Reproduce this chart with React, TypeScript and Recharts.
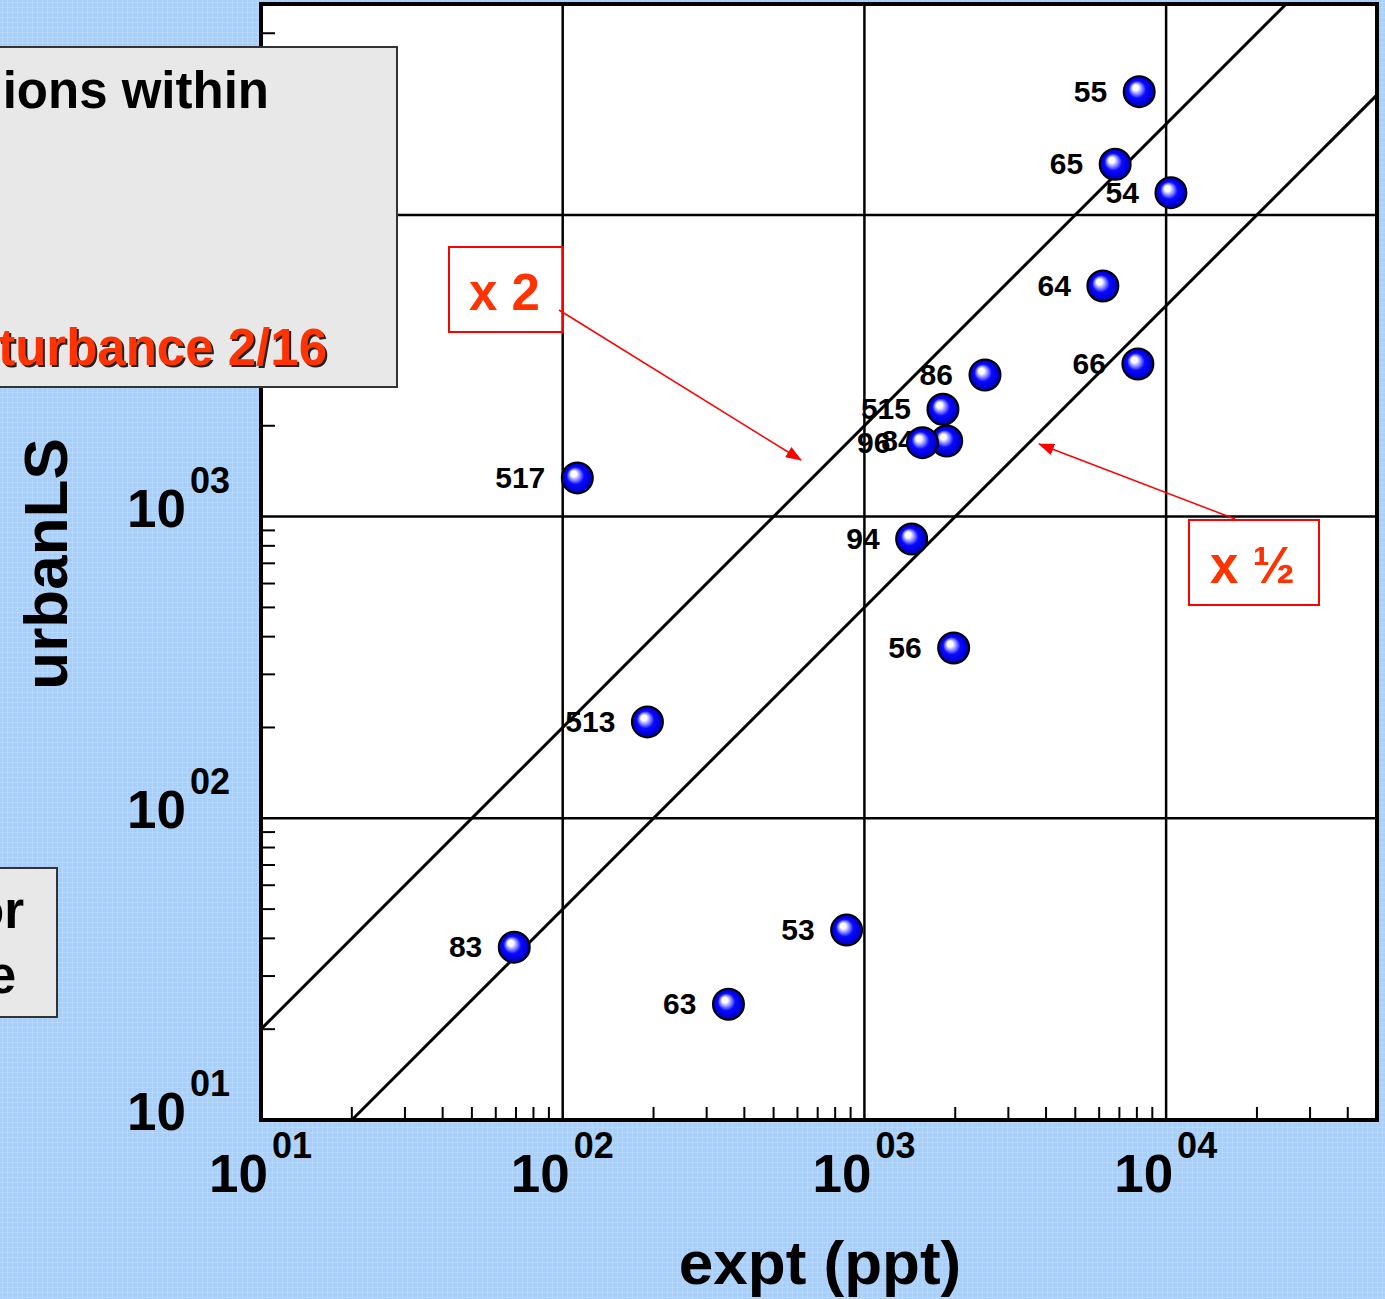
import React from 'react';
import { ScatterChart, Scatter, XAxis, YAxis, ReferenceLine, ReferenceArea } from 'recharts';

// ---- data ----
const pointLabels = ['55', '65', '54', '64', '66', '86', '515', '84', '96', '517', '94', '56', '513', '83', '53', '63'];
const exptValues = [8142, 6779, 10373, 6170, 8062, 2510, 1821, 1874, 1557, 111.8, 1434, 1976, 190.9, 69.1, 873, 354.3];
const urbanValues = [25605, 14718, 11850, 5812, 3204, 2947, 2268, 1781, 1758, 1343, 843, 366.8, 208.6, 37.4, 42.6, 24.2];

const majorTicks = [10, 100, 1000, 10000];
const exponentLabels = ['01', '02', '03', '04'];
const minorTicks = [
  20, 30, 40, 50, 60, 70, 80, 90,
  200, 300, 400, 500, 600, 700, 800, 900,
  2000, 3000, 4000, 5000, 6000, 7000, 8000, 9000,
  20000, 30000, 40000,
];
const axisDomain = [10, 50000];
const gridValues = [100, 1000, 10000];
// y = 2x and y = x/2 reference lines (endpoints at the plot boundary)
const upperLine = [{ x: 10, y: 20 }, { x: 25000, y: 50000 }];
const lowerLine = [{ x: 20, y: 10 }, { x: 50000, y: 25000 }];

const points = pointLabels.map((label, i) => ({ label, x: exptValues[i], y: urbanValues[i] }));
const allTicks = [...majorTicks, ...minorTicks].sort((a, b) => a - b);

const FONT = '"Liberation Sans", Arial, Helvetica, sans-serif';

const XTick = (props: any) => {
  const { x, y, payload } = props;
  const v = payload.value;
  const idx = majorTicks.indexOf(v);
  if (idx < 0) {
    return <line x1={x} x2={x} y1={y} y2={y - 13} stroke="#000" strokeWidth={2} />;
  }
  return (
    <g>
      <text x={x + 7} y={y + 72} textAnchor="end" fontFamily={FONT} fontWeight="bold" fontSize={53} fill="#000">10</text>
      <text x={x + 11} y={y + 38} textAnchor="start" fontFamily={FONT} fontWeight="bold" fontSize={36} fill="#000">{exponentLabels[idx]}</text>
    </g>
  );
};

const YTick = (props: any) => {
  const { x, y, payload } = props;
  const v = payload.value;
  const idx = majorTicks.indexOf(v);
  if (idx < 0) {
    return <line x1={x} x2={x + 14} y1={y} y2={y} stroke="#000" strokeWidth={2} />;
  }
  return (
    <g>
      <text x={x - 75} y={y + 10} textAnchor="end" fontFamily={FONT} fontWeight="bold" fontSize={53} fill="#000">10</text>
      <text x={x - 31} y={y - 24} textAnchor="end" fontFamily={FONT} fontWeight="bold" fontSize={36} fill="#000">{exponentLabels[idx]}</text>
    </g>
  );
};

const Ball = (props: any) => {
  const { cx, cy } = props;
  const label = props.payload?.label ?? props.label;
  if (cx == null || cy == null) return <g />;
  return (
    <g>
      <text x={cx - 32} y={cy + 10} textAnchor="end" fontFamily={FONT} fontWeight="bold" fontSize={30} fill="#000">{label}</text>
      <circle cx={cx} cy={cy} r={15.5} fill="url(#ballGrad)" stroke="#000" strokeWidth={2} />
    </g>
  );
};

export default function App() {
  return (
    <div style={{ position: 'absolute', left: 0, top: 0, width: 1385, height: 1299, overflow: 'hidden' }}>
      <svg width={1385} height={1299} style={{ position: 'absolute', left: 0, top: 0 }}>
        <defs>
          <pattern id="bgpat" width={5} height={5} patternUnits="userSpaceOnUse">
            <rect width={5} height={5} fill="#a8cffa" />
            <rect x={2} y={0} width={1} height={5} fill="#c0ddfd" opacity={0.55} />
            <rect x={0} y={2} width={5} height={1} fill="#c0ddfd" opacity={0.55} />
          </pattern>
        </defs>
        <rect width={1385} height={1299} fill="url(#bgpat)" />
      </svg>
      <div style={{ position: 'absolute', left: 0, top: 0 }}>
        <ScatterChart width={1385} height={1299} margin={{ top: 4, right: 8, bottom: 79, left: 61 }}>
          <defs>
            <radialGradient id="ballGrad" cx="0.5" cy="0.5" r="0.5" fx="0.36" fy="0.34">
              <stop offset="0" stopColor="#ffffff" />
              <stop offset="0.18" stopColor="#ffffff" />
              <stop offset="0.36" stopColor="#8c8cff" />
              <stop offset="0.56" stopColor="#0a0aff" />
              <stop offset="0.85" stopColor="#0000d8" />
              <stop offset="1" stopColor="#00008a" />
            </radialGradient>
          </defs>
          <ReferenceArea x1={axisDomain[0]} x2={axisDomain[1]} y1={axisDomain[0]} y2={axisDomain[1]} fill="#ffffff" fillOpacity={1} stroke="none" ifOverflow="visible" />
          <XAxis
            dataKey="x"
            type="number"
            scale="log"
            domain={axisDomain}
            allowDataOverflow
            ticks={allTicks}
            interval={0}
            tickLine={false}
            tickSize={0}
            tickMargin={0}
            height={100}
            axisLine={{ stroke: '#000', strokeWidth: 4 }}
            tick={XTick}
          />
          <YAxis
            dataKey="y"
            type="number"
            scale="log"
            domain={axisDomain}
            allowDataOverflow
            ticks={allTicks}
            interval={0}
            tickLine={false}
            tickSize={0}
            tickMargin={0}
            width={200}
            axisLine={{ stroke: '#000', strokeWidth: 4 }}
            tick={YTick}
          />
          {gridValues.map((v) => (
            <ReferenceLine key={'gx' + v} x={v} stroke="#000" strokeWidth={2.5} />
          ))}
          {gridValues.map((v) => (
            <ReferenceLine key={'gy' + v} y={v} stroke="#000" strokeWidth={2.5} />
          ))}
          <ReferenceLine segment={upperLine} stroke="#000" strokeWidth={3} ifOverflow="visible" />
          <ReferenceLine segment={lowerLine} stroke="#000" strokeWidth={3} ifOverflow="visible" />
          <ReferenceArea x1={axisDomain[0]} x2={axisDomain[1]} y1={axisDomain[0]} y2={axisDomain[1]} fill="none" stroke="#000" strokeWidth={4} ifOverflow="visible" />
          <Scatter data={points} shape={Ball} isAnimationActive={false} />
        </ScatterChart>
      </div>
      <svg width={1385} height={1299} style={{ position: 'absolute', left: 0, top: 0, pointerEvents: 'none' }}>
        <defs>
          <marker id="arrowHead" markerWidth={16} markerHeight={12} refX={15} refY={6} orient="auto" markerUnits="userSpaceOnUse">
            <path d="M0,0 L16,6 L0,12 Z" fill="#ff0000" />
          </marker>
        </defs>
        {/* axis titles */}
        <text x={820} y={1284} textAnchor="middle" fontFamily={FONT} fontWeight="bold" fontSize={62} fill="#000">expt (ppt)</text>
        <text transform="translate(67,564) rotate(-90)" textAnchor="middle" fontFamily={FONT} fontWeight="bold" fontSize={62} fill="#000">urbanLS</text>
        {/* upper-left gray box */}
        <rect x={-2} y={47} width={399} height={340} fill="#e8e8e8" stroke="#333" strokeWidth={2} />
        <text x={269} y={108} textAnchor="end" fontFamily={FONT} fontWeight="bold" fontSize={51} fill="#000">ions within</text>
        <text x={329} y={367} textAnchor="end" fontFamily={FONT} fontWeight="bold" fontSize={51} fill="#222">turbance 2/16</text>
        <text x={327} y={365} textAnchor="end" fontFamily={FONT} fontWeight="bold" fontSize={51} fill="#ff3300">turbance 2/16</text>
        {/* lower-left gray box */}
        <rect x={-2} y={868} width={59} height={149} fill="#e8e8e8" stroke="#333" strokeWidth={2} />
        <text x={24} y={928} textAnchor="end" fontFamily={FONT} fontWeight="bold" fontSize={51} fill="#000">or</text>
        <text x={16} y={993} textAnchor="end" fontFamily={FONT} fontWeight="bold" fontSize={51} fill="#000">e</text>
        {/* x 2 annotation */}
        <rect x={449} y={247} width={114} height={85} fill="none" stroke="#ff0000" strokeWidth={2} />
        <text x={469} y={310} fontFamily={FONT} fontWeight="bold" fontSize={51} fill="#ff3300">x 2</text>
        <line x1={559} y1={310} x2={801} y2={460} stroke="#ff0000" strokeWidth={1.5} markerEnd="url(#arrowHead)" />
        {/* x 1/2 annotation */}
        <rect x={1189} y={520} width={130} height={85} fill="none" stroke="#ff0000" strokeWidth={2} />
        <text x={1210} y={583} fontFamily={FONT} fontWeight="bold" fontSize={51} fill="#ff3300">x ½</text>
        <line x1={1235} y1={519} x2={1039} y2={444} stroke="#ff0000" strokeWidth={1.5} markerEnd="url(#arrowHead)" />
      </svg>
    </div>
  );
}
